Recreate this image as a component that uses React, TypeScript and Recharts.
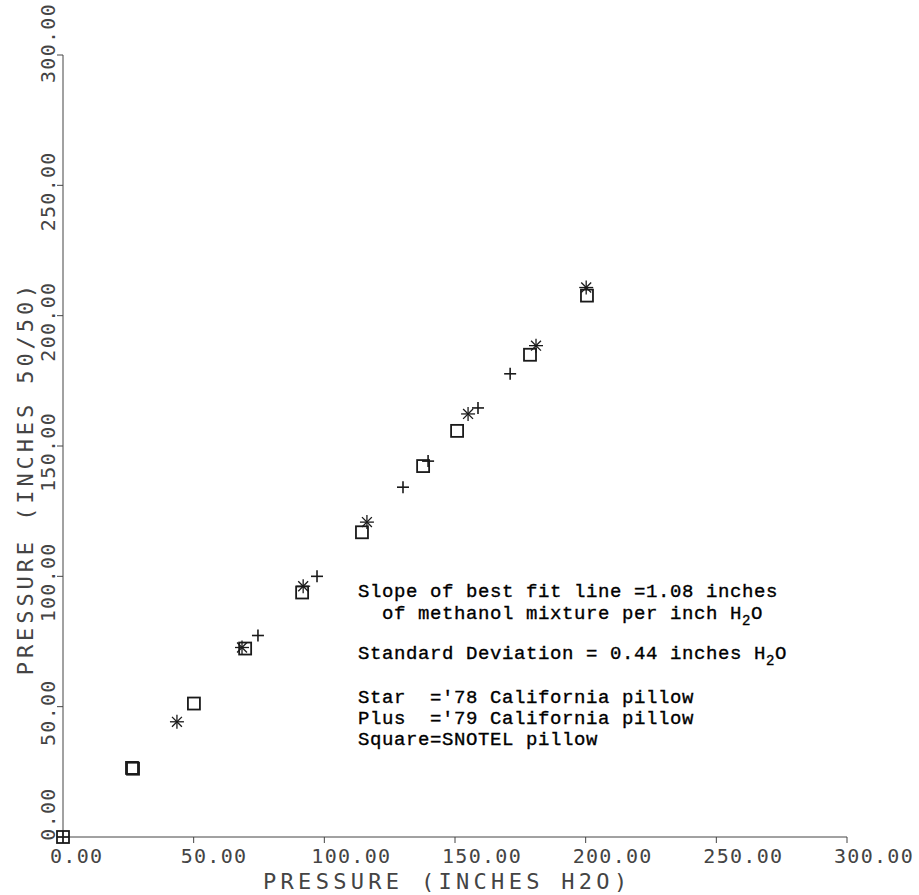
import React from 'react';
import { ScatterChart, Scatter, XAxis, YAxis } from 'recharts';

// '78 California pillow (star)
const starX = [43.6, 68.5, 91.9, 116.3, 155.0, 181.0, 200.2];
const starY = [44.2, 72.7, 96.2, 120.8, 162.3, 188.5, 210.8];

// '79 California pillow (plus)
const plusX = [0, 74.6, 97.2, 130.1, 139.7, 158.8, 171.1];
const plusY = [0, 77.3, 100.0, 134.2, 144.2, 164.6, 177.7];

// SNOTEL pillow (square)
const squareX = [0, 26.4, 26.8, 50.1, 69.7, 91.5, 114.4, 137.8, 150.8, 178.7, 200.5];
const squareY = [0, 26.5, 26.2, 51.2, 72.3, 93.8, 116.9, 142.3, 155.8, 185.0, 207.7];

const axisTicks = [0, 50, 100, 150, 200, 250, 300];

const xTitle = 'PRESSURE (INCHES H2O)';
const yTitle = 'PRESSURE (INCHES 50/50)';

const toPoints = (xs: number[], ys: number[]) => xs.map((x, i) => ({ x, y: ys[i] }));

const INK = '#1a1a1a';
const AXIS_INK = '#444';
const PLOT_FONT = '"DejaVu Sans Mono", monospace';
const TYPE_FONT = '"Liberation Mono", "Courier New", monospace';

const StarShape = (props: any) => {
  const { cx, cy } = props;
  const r = 7;
  const spokes = [0, 45, 90, 135];
  return (
    <g stroke={INK} strokeWidth={1.3}>
      {spokes.map(a => {
        const dx = r * Math.cos((a * Math.PI) / 180);
        const dy = r * Math.sin((a * Math.PI) / 180);
        return <line key={a} x1={cx - dx} y1={cy - dy} x2={cx + dx} y2={cy + dy} />;
      })}
    </g>
  );
};

const PlusShape = (props: any) => {
  const { cx, cy } = props;
  const r = 6;
  return (
    <g stroke={INK} strokeWidth={1.6}>
      <line x1={cx - r} y1={cy} x2={cx + r} y2={cy} />
      <line x1={cx} y1={cy - r} x2={cx} y2={cy + r} />
    </g>
  );
};

const SquareShape = (props: any) => {
  const { cx, cy } = props;
  const s = 12;
  return <rect x={cx - s / 2} y={cy - s / 2} width={s} height={s} fill="none" stroke={INK} strokeWidth={1.8} />;
};

const XTick = (props: any) => {
  const { x, y, payload } = props;
  return (
    <text x={x - 13} y={y + 18} fontFamily={PLOT_FONT} fontSize={20} letterSpacing={1.3} fill={AXIS_INK} textAnchor="start">
      {Number(payload.value).toFixed(2)}
    </text>
  );
};

// the plotter nudged the end labels upward, the rest sit a little low
const yLabelShift = (v: number) => (v === 0 ? -23 : v === 300 ? -12 : 6);

const YTick = (props: any) => {
  const { x, y, payload } = props;
  const ty = y + yLabelShift(payload.value);
  return (
    <text
      x={x}
      y={ty}
      transform={`rotate(-90, ${x}, ${ty})`}
      fontFamily={PLOT_FONT}
      fontSize={20}
      letterSpacing={1.3}
      fill={AXIS_INK}
      textAnchor="middle"
    >
      {Number(payload.value).toFixed(2)}
    </text>
  );
};

const H2O = () => (
  <>
    H
    <tspan dy={6} fontSize={14}>2</tspan>
    <tspan dy={-6}>O</tspan>
  </>
);

const App = () => {
  const stars = toPoints(starX, starY);
  const pluses = toPoints(plusX, plusY);
  const squares = toPoints(squareX, squareY);

  return (
    <div style={{ position: 'absolute', left: 0, top: 0, width: 919, height: 895, background: '#fff' }}>
      <ScatterChart width={919} height={895} margin={{ top: 55, right: 72, bottom: 0, left: 0 }}>
        <XAxis
          type="number"
          dataKey="x"
          domain={[0, 300]}
          ticks={axisTicks}
          interval={0}
          height={58}
          tickSize={6}
          stroke={AXIS_INK}
          tick={<XTick />}
        />
        <YAxis
          type="number"
          dataKey="y"
          domain={[0, 300]}
          ticks={axisTicks}
          interval={0}
          width={63}
          tickSize={6}
          stroke={AXIS_INK}
          tick={<YTick />}
        />
        <Scatter data={squares} shape={<SquareShape />} isAnimationActive={false} />
        <Scatter data={stars} shape={<StarShape />} isAnimationActive={false} />
        <Scatter data={pluses} shape={<PlusShape />} isAnimationActive={false} />
      </ScatterChart>
      <svg width={919} height={895} style={{ position: 'absolute', left: 0, top: 0, pointerEvents: 'none' }}>
        <text x={263} y={889} fontFamily={PLOT_FONT} fontSize={22} letterSpacing={4.3} fill={AXIS_INK}>
          {xTitle}
        </text>
        <text
          x={33}
          y={478}
          transform="rotate(-90, 33, 478)"
          fontFamily={PLOT_FONT}
          fontSize={22}
          letterSpacing={3.9}
          fill={AXIS_INK}
          textAnchor="middle"
        >
          {yTitle}
        </text>
        <g fontFamily={TYPE_FONT} fontSize={19} letterSpacing={0.6} fill="#000" stroke="#000" strokeWidth={0.35}>
          <text x={358} y={597}>Slope of best fit line =1.08 inches</text>
          <text x={358} y={619} style={{ whiteSpace: 'pre' }}>{'  of methanol mixture per inch '}<H2O /></text>
          <text x={358} y={659} style={{ whiteSpace: 'pre' }}>{'Standard Deviation = 0.44 inches '}<H2O /></text>
          <text x={358} y={703} style={{ whiteSpace: 'pre' }}>{"Star  ='78 California pillow"}</text>
          <text x={358} y={724} style={{ whiteSpace: 'pre' }}>{"Plus  ='79 California pillow"}</text>
          <text x={358} y={745} style={{ whiteSpace: 'pre' }}>{'Square=SNOTEL pillow'}</text>
        </g>
      </svg>
    </div>
  );
};

export default App;
